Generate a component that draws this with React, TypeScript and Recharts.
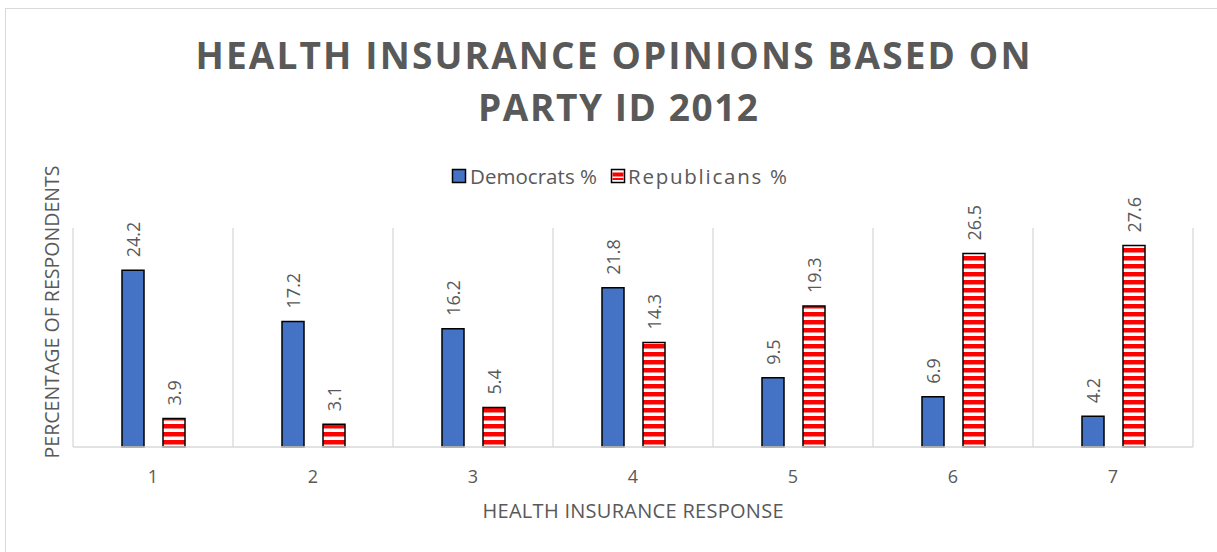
import React from 'react';
import { BarChart, Bar, XAxis, YAxis, CartesianGrid, LabelList } from 'recharts';

const categories = ['1', '2', '3', '4', '5', '6', '7'];
const democrats = [24.2, 17.2, 16.2, 21.8, 9.5, 6.9, 4.2];
const republicans = [3.9, 3.1, 5.4, 14.3, 19.3, 26.5, 27.6];
const seriesNames = ['Democrats %', 'Republicans %'];
const titleLines = ['HEALTH INSURANCE OPINIONS BASED ON', 'PARTY ID 2012'];
const xAxisTitle = 'HEALTH INSURANCE RESPONSE';
const yAxisTitle = 'PERCENTAGE OF RESPONDENTS';
const yDomain = [0, 30];

const data = categories.map((c, i) => ({ cat: c, dem: democrats[i], rep: republicans[i] }));

const GRAY = '#595959';
const FONT = '"Open Sans", "Liberation Sans", sans-serif';

const renderValue = (props: any) => {
  const { x, y, width, value } = props;
  const cx = Number(x) + Number(width) / 2;
  const ty = Number(y) - 13;
  return (
    <text
      transform={`translate(${cx},${ty}) rotate(-90)`}
      textAnchor="start"
      dominantBaseline="central"
      fill={GRAY}
      fontSize={18}
      fontFamily={FONT}
    >
      {Number(value).toFixed(1)}
    </text>
  );
};

export default function App() {
  return (
    <div style={{ position: 'fixed', left: 0, top: 0, width: 1217, height: 552, background: '#fff', overflow: 'hidden' }}>
      <div
        style={{
          position: 'absolute',
          left: 5,
          top: 8,
          width: 1240,
          height: 580,
          border: '1.5px solid #d9d9d9',
          boxSizing: 'border-box',
        }}
      />
      <div style={{ position: 'absolute', left: 0, top: 0 }}>
        <BarChart
          width={1217}
          height={552}
          data={data}
          margin={{ top: 228, right: 24, bottom: 75, left: 73 }}
          barSize={22}
          barGap={19}
        >
          <defs>
            <pattern id="redStripes" width="8" height="8" patternUnits="userSpaceOnUse">
              <rect x="0" y="0" width="8" height="8" fill="#ffffff" />
              <rect x="0" y="0" width="8" height="4.5" fill="#ff0000" />
            </pattern>
          </defs>
          <CartesianGrid
            horizontal={false}
            stroke="#d9d9d9"
            strokeWidth={1.3}
            verticalCoordinatesGenerator={({ offset }: any) =>
              Array.from({ length: categories.length + 1 }, (_, i) => offset.left + (i * offset.width) / categories.length)
            }
          />
          <XAxis
            dataKey="cat"
            height={30}
            tickLine={false}
            axisLine={{ stroke: '#d9d9d9', strokeWidth: 1.3 }}
            tick={{ fill: GRAY, fontSize: 18, fontFamily: FONT }}
            tickMargin={17}
          />
          <YAxis hide domain={yDomain} />
          <Bar dataKey="dem" fill="#4472c4" stroke="#000" strokeWidth={1.5} isAnimationActive={false}>
            <LabelList dataKey="dem" content={renderValue} />
          </Bar>
          <Bar dataKey="rep" fill="url(#redStripes)" stroke="#000" strokeWidth={1.5} isAnimationActive={false}>
            <LabelList dataKey="rep" content={renderValue} />
          </Bar>
        </BarChart>
      </div>
      <svg
        width={1217}
        height={552}
        style={{ position: 'absolute', left: 0, top: 0, pointerEvents: 'none' }}
      >
        <text x={613} y={69} textAnchor="middle" fill={GRAY} fontSize={37} fontWeight={700} fontFamily={FONT} textLength={835} lengthAdjust="spacing">
          {titleLines[0]}
        </text>
        <text x={618} y={121} textAnchor="middle" fill={GRAY} fontSize={37} fontWeight={700} fontFamily={FONT} textLength={280} lengthAdjust="spacing">
          {titleLines[1]}
        </text>
        <rect x={452.5} y={169.5} width={13} height={13} fill="#4472c4" stroke="#000" strokeWidth={1.5} />
        <text x={470} y={183.5} fill={GRAY} fontSize={20.5} fontFamily={FONT} textLength={127} lengthAdjust="spacing">
          {seriesNames[0]}
        </text>
        <rect x={611.5} y={169.5} width={13} height={13} fill="#fff" stroke="#000" strokeWidth={1.5} />
        <rect x={612.5} y={172.5} width={11} height={4} fill="#ff0000" />
        <rect x={612.5} y={178} width={11} height={2} fill="#ff0000" />
        <text x={628} y={183.5} fill={GRAY} fontSize={20.5} fontFamily={FONT} textLength={159} lengthAdjust="spacing">
          {seriesNames[1]}
        </text>
        <text x={633} y={518} textAnchor="middle" fill={GRAY} fontSize={20} fontFamily={FONT} textLength={301} lengthAdjust="spacing">
          {xAxisTitle}
        </text>
        <text
          transform="translate(59,312) rotate(-90)"
          textAnchor="middle"
          fill={GRAY}
          fontSize={19.5}
          fontFamily={FONT}
          textLength={293}
          lengthAdjust="spacing"
        >
          {yAxisTitle}
        </text>
      </svg>
    </div>
  );
}
